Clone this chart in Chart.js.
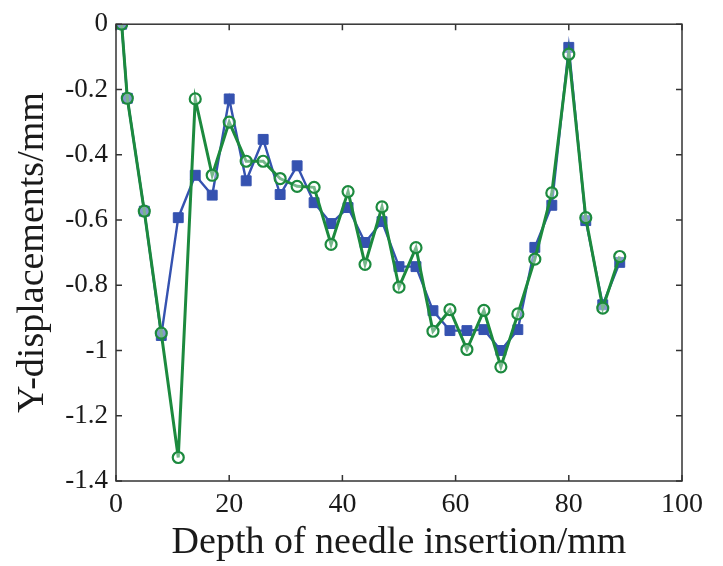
<!DOCTYPE html>
<html>
<head>
<meta charset="utf-8">
<script src="https://cdn.jsdelivr.net/npm/chart.js@4"></script>
<style>
  html, body { margin: 0; padding: 0; background: #fff; }
  #wrap { width: 723px; height: 566px; }
</style>
</head>
<body>
<div id="wrap"><canvas id="myChart" width="723" height="566"></canvas></div>
<script>
var depth = [1, 2, 5, 8, 11, 14, 17, 20, 23, 26, 29, 32, 35, 38, 41, 44, 47, 50, 53, 56, 59, 62, 65, 68, 71, 74, 77, 80, 83, 86, 89];
var blueY = [0, -0.227, -0.573, -0.954, -0.593, -0.463, -0.524, -0.229, -0.480, -0.353, -0.522, -0.434, -0.547, -0.611, -0.562, -0.669, -0.605, -0.743, -0.743, -0.878, -0.939, -0.939, -0.936, -1.0, -0.936, -0.684, -0.555, -0.071, -0.602, -0.86, -0.73];
var greenY = [0, -0.227, -0.573, -0.947, -1.328, -0.229, -0.463, -0.300, -0.420, -0.420, -0.473, -0.497, -0.500, -0.675, -0.513, -0.736, -0.560, -0.806, -0.685, -0.941, -0.875, -0.997, -0.877, -1.05, -0.888, -0.720, -0.517, -0.092, -0.593, -0.870, -0.712];
var xTicks = [0, 20, 40, 60, 80, 100];
var yTicks = [0, -0.2, -0.4, -0.6, -0.8, -1, -1.2, -1.4];

function pts(ys) {
    var out = [];
    for (var i = 0; i < depth.length; i++) out.push({x: depth[i], y: ys[i]});
    return out;
}

// box round the plot with inward ticks on all four sides
var boxPlugin = {
    id: 'box',
    afterDraw: function (chart) {
        var ctx = chart.ctx, a = chart.chartArea;
        var xs = chart.scales.x, ys = chart.scales.y;
        ctx.save();
        ctx.strokeStyle = '#333';
        ctx.lineWidth = 1.5;
        ctx.strokeRect(a.left, a.top, a.right - a.left, a.bottom - a.top);
        ctx.beginPath();
        for (var v of xTicks) {
            var px = xs.getPixelForValue(v);
            ctx.moveTo(px, a.bottom); ctx.lineTo(px, a.bottom - 6);
            ctx.moveTo(px, a.top); ctx.lineTo(px, a.top + 6);
        }
        for (var v of yTicks) {
            var py = ys.getPixelForValue(v);
            ctx.moveTo(a.left, py); ctx.lineTo(a.left + 6, py);
            ctx.moveTo(a.right, py); ctx.lineTo(a.right - 6, py);
        }
        ctx.stroke();
        ctx.restore();
    }
};

Chart.defaults.font.family = '"Liberation Serif", "Times New Roman", serif';
Chart.defaults.color = '#1a1a1a';

const ctx = document.getElementById('myChart').getContext('2d');
const myChart = new Chart(ctx, {
    type: 'scatter',
    data: {
        datasets: [{
            label: 'blue',
            data: pts(blueY),
            showLine: true,
            borderColor: '#3552b0',
            backgroundColor: '#3552b0',
            borderWidth: 2.4,
            pointStyle: 'rect',
            pointRadius: 7,
            pointBorderWidth: 1,
            order: 2
        }, {
            label: 'green',
            data: pts(greenY),
            showLine: true,
            borderColor: '#1c8a3e',
            backgroundColor: 'rgba(255,255,255,0.4)',
            borderWidth: 3,
            pointStyle: 'circle',
            pointRadius: 5.5,
            pointBorderWidth: 2.2,
            order: 1
        }]
    },
    options: {
        responsive: false,
        animation: false,
        layout: { padding: { top: 22, right: 41, left: 0, bottom: 0 } },
        plugins: { legend: { display: false }, tooltip: { enabled: false } },
        scales: {
            x: {
                type: 'linear', min: 0, max: 100,
                afterBuildTicks: function (s) { s.ticks = xTicks.map(function (v) { return {value: v}; }); },
                afterFit: function (s) { s.height = 85; },
                grid: { display: false, drawTicks: false },
                border: { display: false },
                ticks: { font: { size: 28 }, padding: 7, maxRotation: 0 },
                title: { display: true, text: 'Depth of needle insertion/mm', font: { size: 38 }, padding: { top: 0, bottom: 0 } }
            },
            y: {
                type: 'linear', min: -1.4, max: 0,
                afterBuildTicks: function (s) { s.ticks = yTicks.map(function (v) { return {value: v}; }); },
                afterFit: function (s) { s.width = 116; },
                grid: { display: false, drawTicks: false },
                border: { display: false },
                ticks: { font: { size: 27 }, padding: 8, callback: function (v) { return String(v); } },
                title: { display: true, text: 'Y-displacements/mm', font: { size: 38 }, padding: { bottom: 0, top: 10 } }
            }
        }
    },
    plugins: [boxPlugin]
});
</script>
</body>
</html>
